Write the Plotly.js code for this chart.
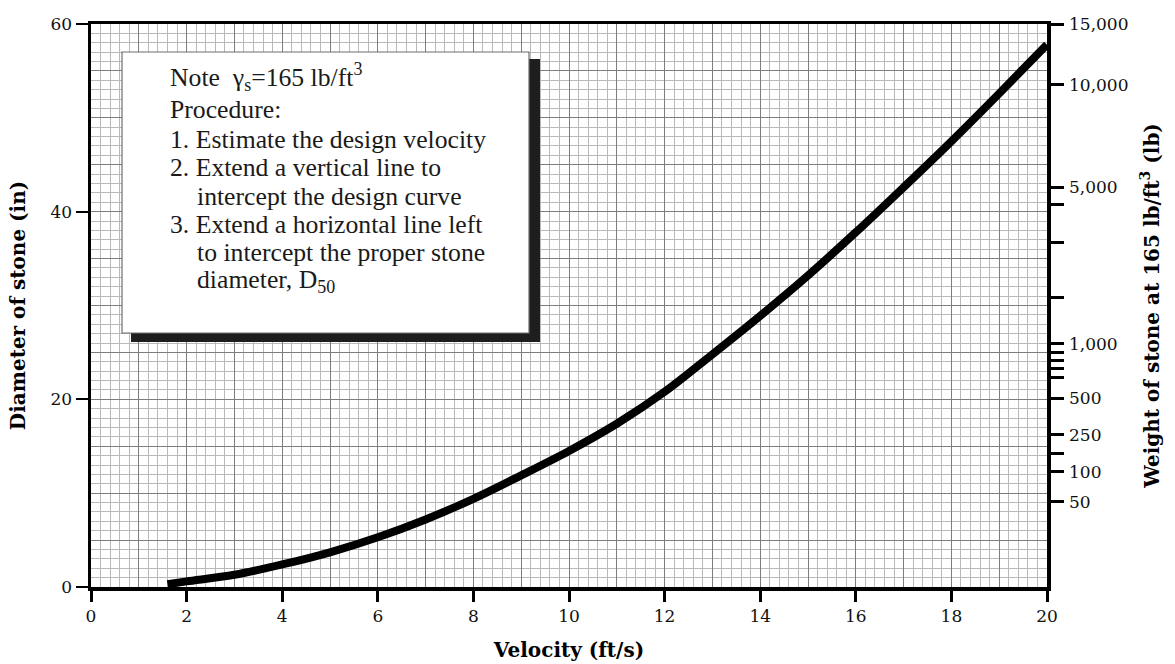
<!DOCTYPE html>
<html>
<head>
<meta charset="utf-8">
<script src="https://cdn.plot.ly/plotly-3.0.1.min.js"></script>
<style>
html, body { margin: 0; padding: 0; background: #ffffff; }
#chart { width: 1175px; height: 664px; }
</style>
</head>
<body>
<div id="chart"></div>
<script>
// ---- Data ----
const velocity = [1.6, 2, 3, 4, 5, 6, 7, 8, 9, 10, 11, 12, 13, 14, 15, 16, 17, 18, 19, 20];
const diameter = [0.3, 0.6, 1.3, 2.4, 3.7, 5.3, 7.2, 9.4, 11.9, 14.5, 17.4, 20.8, 24.8, 28.9, 33.2, 37.8, 42.6, 47.5, 52.6, 57.8];

const velocityTicks = [0, 2, 4, 6, 8, 10, 12, 14, 16, 18, 20];
const diameterTicks = [0, 20, 40, 60];

// Right-hand weight scale: diameter position of each labelled weight tick, and its label
const weightTickDiameters = [60, 53.5, 42.6, 25.9, 20.1, 16.2, 12.3, 9.1];
const weightTickLabels = ["15,000", "10,000", "5,000", "1,000", "500", "250", "100", "50"];
// Unlabelled weight ticks (4000, 3000, 2000, 900, 800, 700, 600, 200 lb), at their diameter position
const weightMinorTickDiameters = [40.8, 36.7, 30.9, 25.0, 24.1, 23.3, 22.3, 14.2];

const noteLines = [
  "Note\u00a0\u00a0\u03b3<sub>s</sub>=165 lb/ft<sup>3</sup>",
  "Procedure:",
  "1. Estimate the design velocity",
  "2. Extend a vertical line to",
  "intercept the design curve",
  "3. Extend a horizontal line left",
  "to intercept the proper stone",
  "diameter, D<sub>50</sub>"
];
const noteIndent = [false, false, false, false, true, false, true, true];

// ---- Layout helpers (pixel -> paper) ----
const W = 1175, H = 664;
const M = { l: 91, r: 128, t: 24, b: 77 };
const plotW = W - M.l - M.r, plotH = H - M.t - M.b;
const px = x => (x - M.l) / plotW;
const py = y => (H - M.b - y) / plotH;

const serif = 'DejaVu Serif, serif';
const noteFont = 'Liberation Serif, Times New Roman, serif';
const minorGrid = '#b9b9b9';
const majorGrid = '#7d7d7d';

const traces = [
  {
    x: velocity, y: diameter, type: 'scatter', mode: 'lines',
    line: { color: '#000000', width: 8, shape: 'spline', smoothing: 1 },
    xaxis: 'x', yaxis: 'y', hoverinfo: 'x+y', showlegend: false
  },
  { x: [null], y: [null], type: 'scatter', mode: 'lines', xaxis: 'x', yaxis: 'y2', hoverinfo: 'skip', showlegend: false },
  { x: [null], y: [null], type: 'scatter', mode: 'lines', xaxis: 'x2', yaxis: 'y3', hoverinfo: 'skip', showlegend: false }
];

const noteY = [77, 110, 139, 167, 196, 224, 252, 281];
const noteAnnotations = noteLines.map((t, i) => ({
  text: t, xref: 'paper', yref: 'paper',
  x: px(noteIndent[i] ? 195 : 168), y: py(noteY[i]),
  xanchor: 'left', yanchor: 'middle', showarrow: false,
  font: { family: noteFont, size: 25.7, color: '#1a1a1a' }
}));

// Weight labels of the right-hand scale, placed at their tick positions on the diameter axis
const weightAnnotations = weightTickLabels.map((t, i) => ({
  text: t, xref: 'paper', yref: 'y', x: 1, y: weightTickDiameters[i],
  xanchor: 'left', yanchor: 'middle', xshift: 20, showarrow: false,
  font: { family: serif, size: 17, color: '#111' }
}));

const layout = {
  width: W, height: H,
  margin: M,
  paper_bgcolor: '#ffffff', plot_bgcolor: '#ffffff',
  showlegend: false,
  font: { family: serif, size: 17, color: '#111111' },
  xaxis: {
    range: [0, 20], tickmode: 'array', tickvals: velocityTicks,
    ticks: 'outside', ticklen: 11, tickwidth: 3, tickcolor: '#000',
    showline: true, linewidth: 3.5, linecolor: '#000', mirror: true,
    showgrid: true, gridcolor: majorGrid, gridwidth: 1, zeroline: false,
    minor: { tick0: 0, dtick: 0.2, showgrid: true, gridcolor: minorGrid, gridwidth: 1, ticks: '' },
    tickfont: { family: serif, size: 17, color: '#111' },
    title: { text: 'Velocity (ft/s)', font: { family: serif, size: 20, weight: 'bold', color: '#000' }, standoff: 19 },
    fixedrange: true
  },
  xaxis2: {
    overlaying: 'x', range: [0, 20], tick0: 0, dtick: 1,
    showgrid: true, gridcolor: majorGrid, gridwidth: 1,
    showticklabels: false, ticks: '', zeroline: false, showline: false, fixedrange: true
  },
  yaxis: {
    range: [0, 60], tickmode: 'array', tickvals: diameterTicks,
    ticks: 'outside', ticklen: 12, tickwidth: 2, tickcolor: '#000',
    showline: true, linewidth: 3.5, linecolor: '#000', mirror: true,
    showgrid: true, gridcolor: majorGrid, gridwidth: 1, zeroline: false,
    minor: { tick0: 0, dtick: 1, showgrid: true, gridcolor: minorGrid, gridwidth: 1, ticks: '' },
    tickfont: { family: serif, size: 17, color: '#111' },
    title: { text: 'Diameter of stone (in)', font: { family: serif, size: 20, weight: 'bold', color: '#000' }, standoff: 20 },
    fixedrange: true
  },
  yaxis2: {
    overlaying: 'y', side: 'right', anchor: 'x', range: [0, 60],
    tickmode: 'array', tickvals: weightTickDiameters, showticklabels: false,
    ticks: 'outside', ticklen: 13, tickwidth: 3, tickcolor: '#000',
    minor: { tickmode: 'array', tickvals: weightMinorTickDiameters, ticks: 'outside', ticklen: 13, tickwidth: 3, tickcolor: '#000', showgrid: false },
    showline: true, linewidth: 3.5, linecolor: '#000',
    showgrid: false, zeroline: false,
    title: { text: 'Weight of stone at 165 lb/ft<sup>3</sup> (lb)', font: { family: serif, size: 20, weight: 'bold', color: '#000' }, standoff: 83 },
    fixedrange: true
  },
  yaxis3: {
    overlaying: 'y', range: [0, 60], tick0: 0, dtick: 5,
    showgrid: true, gridcolor: majorGrid, gridwidth: 1,
    showticklabels: false, ticks: '', zeroline: false, showline: false, fixedrange: true
  },
  shapes: [
    { type: 'rect', xref: 'paper', yref: 'paper', layer: 'above',
      x0: px(131), x1: px(540), y0: py(59), y1: py(342),
      fillcolor: '#1e1e1e', line: { width: 0 } },
    { type: 'rect', xref: 'paper', yref: 'paper', layer: 'above',
      x0: px(122), x1: px(529), y0: py(52), y1: py(333),
      fillcolor: '#ffffff', line: { color: '#6e6e6e', width: 1.2 } }
  ],
  annotations: noteAnnotations.concat(weightAnnotations)
};

Plotly.newPlot('chart', traces, layout, { displayModeBar: false, staticPlot: true });
</script>
</body>
</html>
